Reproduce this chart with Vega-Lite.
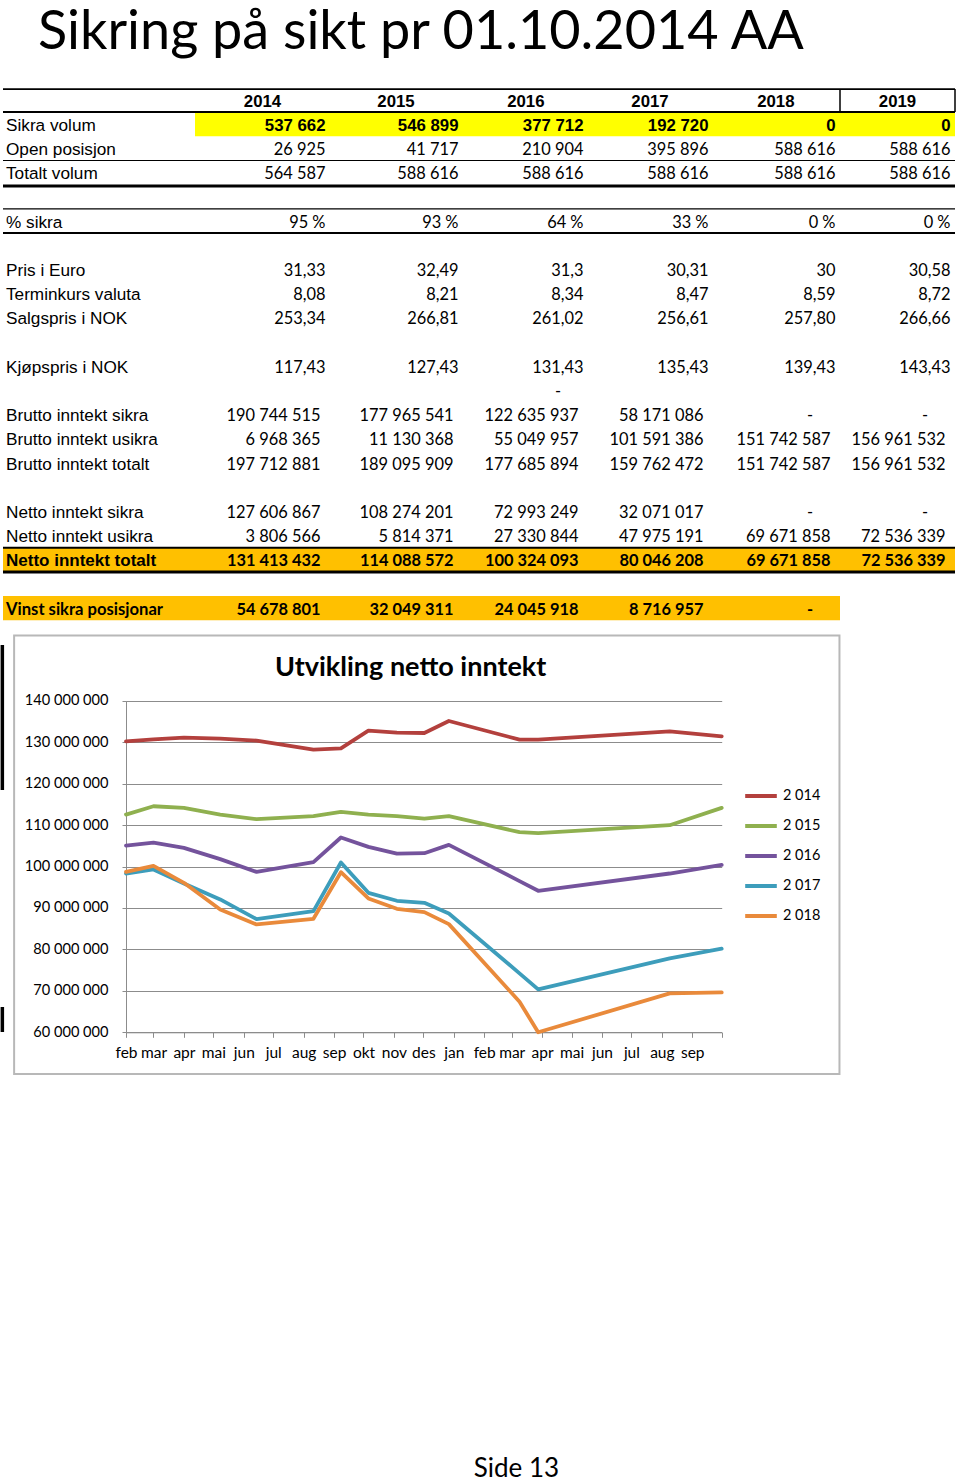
{
"$schema": "https://vega.github.io/schema/vega-lite/v6.json",
"width": 960, "height": 1483,
"autosize": {"type": "none"},
"padding": 0,
"background": "white",
"config": {"view": {"stroke": null}},
"datasets": {
"labels": [
{"row":1,"label":"Sikra volum"},{"row":2,"label":"Open posisjon"},{"row":3,"label":"Totalt volum"},
{"row":5,"label":"% sikra"},{"row":7,"label":"Pris i Euro"},{"row":8,"label":"Terminkurs valuta"},
{"row":9,"label":"Salgspris i NOK"},{"row":11,"label":"Kjøpspris i NOK"},{"row":13,"label":"Brutto inntekt sikra"},
{"row":14,"label":"Brutto inntekt usikra"},{"row":15,"label":"Brutto inntekt totalt"},{"row":17,"label":"Netto inntekt sikra"},
{"row":18,"label":"Netto inntekt usikra"},{"row":19,"label":"Netto inntekt totalt"},{"row":21,"label":"Vinst sikra posisjonar"}
],
"years": [{"year":2014},{"year":2015},{"year":2016},{"year":2017},{"year":2018},{"year":2019}],
"cells": [
{"row":1,"year":2014,"text":"537 662"},{"row":1,"year":2015,"text":"546 899"},{"row":1,"year":2016,"text":"377 712"},{"row":1,"year":2017,"text":"192 720"},{"row":1,"year":2018,"text":"0"},{"row":1,"year":2019,"text":"0"},
{"row":2,"year":2014,"text":"26 925"},{"row":2,"year":2015,"text":"41 717"},{"row":2,"year":2016,"text":"210 904"},{"row":2,"year":2017,"text":"395 896"},{"row":2,"year":2018,"text":"588 616"},{"row":2,"year":2019,"text":"588 616"},
{"row":3,"year":2014,"text":"564 587"},{"row":3,"year":2015,"text":"588 616"},{"row":3,"year":2016,"text":"588 616"},{"row":3,"year":2017,"text":"588 616"},{"row":3,"year":2018,"text":"588 616"},{"row":3,"year":2019,"text":"588 616"},
{"row":5,"year":2014,"text":"95 %"},{"row":5,"year":2015,"text":"93 %"},{"row":5,"year":2016,"text":"64 %"},{"row":5,"year":2017,"text":"33 %"},{"row":5,"year":2018,"text":"0 %"},{"row":5,"year":2019,"text":"0 %"},
{"row":7,"year":2014,"text":"31,33"},{"row":7,"year":2015,"text":"32,49"},{"row":7,"year":2016,"text":"31,3"},{"row":7,"year":2017,"text":"30,31"},{"row":7,"year":2018,"text":"30"},{"row":7,"year":2019,"text":"30,58"},
{"row":8,"year":2014,"text":"8,08"},{"row":8,"year":2015,"text":"8,21"},{"row":8,"year":2016,"text":"8,34"},{"row":8,"year":2017,"text":"8,47"},{"row":8,"year":2018,"text":"8,59"},{"row":8,"year":2019,"text":"8,72"},
{"row":9,"year":2014,"text":"253,34"},{"row":9,"year":2015,"text":"266,81"},{"row":9,"year":2016,"text":"261,02"},{"row":9,"year":2017,"text":"256,61"},{"row":9,"year":2018,"text":"257,80"},{"row":9,"year":2019,"text":"266,66"},
{"row":11,"year":2014,"text":"117,43"},{"row":11,"year":2015,"text":"127,43"},{"row":11,"year":2016,"text":"131,43"},{"row":11,"year":2017,"text":"135,43"},{"row":11,"year":2018,"text":"139,43"},{"row":11,"year":2019,"text":"143,43"},
{"row":12,"year":2016,"text":"-"},
{"row":13,"year":2014,"text":"190 744 515"},{"row":13,"year":2015,"text":"177 965 541"},{"row":13,"year":2016,"text":"122 635 937"},{"row":13,"year":2017,"text":"58 171 086"},{"row":13,"year":2018,"text":"-"},{"row":13,"year":2019,"text":"-"},
{"row":14,"year":2014,"text":"6 968 365"},{"row":14,"year":2015,"text":"11 130 368"},{"row":14,"year":2016,"text":"55 049 957"},{"row":14,"year":2017,"text":"101 591 386"},{"row":14,"year":2018,"text":"151 742 587"},{"row":14,"year":2019,"text":"156 961 532"},
{"row":15,"year":2014,"text":"197 712 881"},{"row":15,"year":2015,"text":"189 095 909"},{"row":15,"year":2016,"text":"177 685 894"},{"row":15,"year":2017,"text":"159 762 472"},{"row":15,"year":2018,"text":"151 742 587"},{"row":15,"year":2019,"text":"156 961 532"},
{"row":17,"year":2014,"text":"127 606 867"},{"row":17,"year":2015,"text":"108 274 201"},{"row":17,"year":2016,"text":"72 993 249"},{"row":17,"year":2017,"text":"32 071 017"},{"row":17,"year":2018,"text":"-"},{"row":17,"year":2019,"text":"-"},
{"row":18,"year":2014,"text":"3 806 566"},{"row":18,"year":2015,"text":"5 814 371"},{"row":18,"year":2016,"text":"27 330 844"},{"row":18,"year":2017,"text":"47 975 191"},{"row":18,"year":2018,"text":"69 671 858"},{"row":18,"year":2019,"text":"72 536 339"},
{"row":19,"year":2014,"text":"131 413 432"},{"row":19,"year":2015,"text":"114 088 572"},{"row":19,"year":2016,"text":"100 324 093"},{"row":19,"year":2017,"text":"80 046 208"},{"row":19,"year":2018,"text":"69 671 858"},{"row":19,"year":2019,"text":"72 536 339"},
{"row":21,"year":2014,"text":"54 678 801"},{"row":21,"year":2015,"text":"32 049 311"},{"row":21,"year":2016,"text":"24 045 918"},{"row":21,"year":2017,"text":"8 716 957"},{"row":21,"year":2018,"text":"-"}
],
"pts": [
{"series":"2 014","date":"2014-02-01","value":130200000},{"series":"2 014","date":"2014-03-01","value":130680000},{"series":"2 014","date":"2014-04-01","value":131080000},{"series":"2 014","date":"2014-05-08","value":130840000},{"series":"2 014","date":"2014-06-14","value":130360000},{"series":"2 014","date":"2014-08-11","value":128190000},{"series":"2 014","date":"2014-09-08","value":128510000},{"series":"2 014","date":"2014-10-06","value":132770000},{"series":"2 014","date":"2014-11-04","value":132290000},{"series":"2 014","date":"2014-12-02","value":132210000},{"series":"2 014","date":"2014-12-27","value":135100000},{"series":"2 014","date":"2015-03-09","value":130600000},{"series":"2 014","date":"2015-03-28","value":130600000},{"series":"2 014","date":"2015-08-09","value":132610000},{"series":"2 014","date":"2015-10-01","value":131410000},
{"series":"2 015","date":"2014-02-01","value":112530000},{"series":"2 015","date":"2014-03-01","value":114540000},{"series":"2 015","date":"2014-04-01","value":114140000},{"series":"2 015","date":"2014-05-08","value":112530000},{"series":"2 015","date":"2014-06-14","value":111410000},{"series":"2 015","date":"2014-08-11","value":112130000},{"series":"2 015","date":"2014-09-08","value":113170000},{"series":"2 015","date":"2014-10-06","value":112530000},{"series":"2 015","date":"2014-11-04","value":112130000},{"series":"2 015","date":"2014-12-02","value":111570000},{"series":"2 015","date":"2014-12-27","value":112130000},{"series":"2 015","date":"2015-03-09","value":108270000},{"series":"2 015","date":"2015-03-28","value":108030000},{"series":"2 015","date":"2015-08-09","value":109960000},{"series":"2 015","date":"2015-10-01","value":114140000},
{"series":"2 016","date":"2014-02-01","value":105060000},{"series":"2 016","date":"2014-03-01","value":105780000},{"series":"2 016","date":"2014-04-01","value":104500000},{"series":"2 016","date":"2014-05-08","value":101770000},{"series":"2 016","date":"2014-06-14","value":98710000},{"series":"2 016","date":"2014-08-11","value":101040000},{"series":"2 016","date":"2014-09-08","value":106990000},{"series":"2 016","date":"2014-10-06","value":104740000},{"series":"2 016","date":"2014-11-04","value":103130000},{"series":"2 016","date":"2014-12-02","value":103210000},{"series":"2 016","date":"2014-12-27","value":105220000},{"series":"2 016","date":"2015-03-09","value":96470000},{"series":"2 016","date":"2015-03-28","value":94140000},{"series":"2 016","date":"2015-08-09","value":98310000},{"series":"2 016","date":"2015-10-01","value":100400000},
{"series":"2 017","date":"2014-02-01","value":98310000},{"series":"2 017","date":"2014-03-01","value":99280000},{"series":"2 017","date":"2014-04-01","value":95900000},{"series":"2 017","date":"2014-05-08","value":92050000},{"series":"2 017","date":"2014-06-14","value":87310000},{"series":"2 017","date":"2014-08-11","value":89240000},{"series":"2 017","date":"2014-09-08","value":100960000},{"series":"2 017","date":"2014-10-06","value":93650000},{"series":"2 017","date":"2014-11-04","value":91730000},{"series":"2 017","date":"2014-12-02","value":91240000},{"series":"2 017","date":"2014-12-27","value":88670000},{"series":"2 017","date":"2015-03-09","value":74220000},{"series":"2 017","date":"2015-03-28","value":70360000},{"series":"2 017","date":"2015-08-09","value":77830000},{"series":"2 017","date":"2015-10-01","value":80160000},
{"series":"2 018","date":"2014-02-01","value":98710000},{"series":"2 018","date":"2014-03-01","value":100160000},{"series":"2 018","date":"2014-04-01","value":96060000},{"series":"2 018","date":"2014-05-08","value":89640000},{"series":"2 018","date":"2014-06-14","value":86020000},{"series":"2 018","date":"2014-08-11","value":87390000},{"series":"2 018","date":"2014-09-08","value":98630000},{"series":"2 018","date":"2014-10-06","value":92290000},{"series":"2 018","date":"2014-11-04","value":89800000},{"series":"2 018","date":"2014-12-02","value":89000000},{"series":"2 018","date":"2014-12-27","value":86100000},{"series":"2 018","date":"2015-03-09","value":67390000},{"series":"2 018","date":"2015-03-28","value":60000000},{"series":"2 018","date":"2015-08-09","value":69400000},{"series":"2 018","date":"2015-10-01","value":69640000}
]
},
"layer": [
{"layer": [
 {"data":{"values":[{}]},"mark":{"type":"rect","color":"#FFFF00"},"encoding":{
   "x":{"datum":2013,"scale":{"domain":[2012,2013,2014,2015,2016,2017,2018,2019],"range":[3,195,330,463,588,713,840,955],"nice":false,"zero":false},"axis":null},
   "x2":{"datum":2019},
   "y":{"datum":0.5,"scale":{"domain":[0,21],"range":[100,608.2],"nice":false,"zero":false},"axis":null},
   "y2":{"datum":1.5}}},
 {"data":{"values":[{}]},"mark":{"type":"rect","color":"#FFC000"},"encoding":{"x":{"datum":2012,"axis":null},"x2":{"datum":2019},"y":{"datum":18.5,"axis":null},"y2":{"datum":19.5}}},
 {"data":{"values":[{}]},"mark":{"type":"rect","color":"#FFC000"},"encoding":{"x":{"datum":2012,"axis":null},"x2":{"datum":2018},"y":{"datum":20.5,"axis":null},"y2":{"datum":21.5}}},
 {"data":{"values":[{}]},"mark":{"type":"rule","color":"black","strokeWidth":1.6},"encoding":{"x":{"datum":2012,"axis":null},"x2":{"datum":2019},"y":{"datum":-0.45,"axis":null}}},
 {"data":{"values":[{}]},"mark":{"type":"rule","color":"black","strokeWidth":2},"encoding":{"x":{"datum":2012,"axis":null},"x2":{"datum":2019},"y":{"datum":0.5,"axis":null}}},
 {"data":{"values":[{}]},"mark":{"type":"rule","color":"black","strokeWidth":1.2},"encoding":{"x":{"datum":2012,"axis":null},"x2":{"datum":2019},"y":{"datum":2.5,"axis":null}}},
 {"data":{"values":[{}]},"mark":{"type":"rule","color":"black","strokeWidth":3},"encoding":{"x":{"datum":2012,"axis":null},"x2":{"datum":2019},"y":{"datum":3.55,"axis":null}}},
 {"data":{"values":[{}]},"mark":{"type":"rule","color":"black","strokeWidth":1.2},"encoding":{"x":{"datum":2012,"axis":null},"x2":{"datum":2019},"y":{"datum":4.5,"axis":null}}},
 {"data":{"values":[{}]},"mark":{"type":"rule","color":"black","strokeWidth":2},"encoding":{"x":{"datum":2012,"axis":null},"x2":{"datum":2019},"y":{"datum":5.5,"axis":null}}},
 {"data":{"values":[{}]},"mark":{"type":"rule","color":"black","strokeWidth":2},"encoding":{"x":{"datum":2012,"axis":null},"x2":{"datum":2019},"y":{"datum":18.5,"axis":null}}},
 {"data":{"values":[{}]},"mark":{"type":"rule","color":"black","strokeWidth":3},"encoding":{"x":{"datum":2012,"axis":null},"x2":{"datum":2019},"y":{"datum":19.5,"axis":null}}},
 {"data":{"values":[{}]},"mark":{"type":"rule","color":"black","strokeWidth":1.5},"encoding":{"x":{"datum":2018,"axis":null},"y":{"datum":-0.45,"axis":null},"y2":{"datum":0.5}}},
 {"data":{"values":[{}]},"mark":{"type":"rule","color":"black","strokeWidth":1.5},"encoding":{"x":{"datum":2019,"axis":null},"y":{"datum":-0.45,"axis":null},"y2":{"datum":0.5}}},
 {"data":{"name":"labels"},"transform":[{"filter":"datum.row != 19 && datum.row != 21"}],"mark":{"type":"text","align":"left","baseline":"middle","dx":3,"dy":1.5,"font":"Liberation Sans","fontSize":17.2,"color":"black"},"encoding":{"x":{"datum":2012,"axis":null},"y":{"field":"row","type":"quantitative","axis":null},"text":{"field":"label","type":"nominal"}}},
 {"data":{"name":"labels"},"transform":[{"filter":"datum.row == 19"}],"mark":{"type":"text","align":"left","baseline":"middle","dx":3,"dy":1.5,"font":"Liberation Sans","fontWeight":"bold","fontSize":17,"color":"black"},"encoding":{"x":{"datum":2012,"axis":null},"y":{"field":"row","type":"quantitative","axis":null},"text":{"field":"label","type":"nominal"}}},
 {"data":{"name":"labels"},"transform":[{"filter":"datum.row == 21"}],"mark":{"type":"text","align":"left","baseline":"middle","dx":3,"dy":1.5,"font":"Lato","fontWeight":"bold","fontSize":16.6,"color":"black"},"encoding":{"x":{"datum":2012,"axis":null},"y":{"field":"row","type":"quantitative","axis":null},"text":{"field":"label","type":"nominal"}}},
 {"data":{"name":"cells"},"transform":[{"filter":"datum.row == 1"}],"mark":{"type":"text","align":"right","baseline":"middle","dx":-4.5,"dy":1.5,"font":"Liberation Sans","fontWeight":"bold","fontSize":16.8,"color":"black"},"encoding":{"x":{"field":"year","type":"quantitative","axis":null},"y":{"field":"row","type":"quantitative","axis":null},"text":{"field":"text","type":"nominal"}}},
 {"data":{"name":"cells"},"transform":[{"filter":"datum.row >= 2 && datum.row <= 11"}],"mark":{"type":"text","align":"right","baseline":"middle","dx":-4.5,"dy":1.5,"font":"Lato","fontSize":16.4,"color":"black"},"encoding":{"x":{"field":"year","type":"quantitative","axis":null},"y":{"field":"row","type":"quantitative","axis":null},"text":{"field":"text","type":"nominal"}}},
 {"data":{"name":"cells"},"transform":[{"filter":"datum.row >= 13 && datum.row <= 18 && datum.text != '-'"}],"mark":{"type":"text","align":"right","baseline":"middle","dx":-9.5,"dy":1.5,"font":"Lato","fontSize":16.4,"color":"black"},"encoding":{"x":{"field":"year","type":"quantitative","axis":null},"y":{"field":"row","type":"quantitative","axis":null},"text":{"field":"text","type":"nominal"}}},
 {"data":{"name":"cells"},"transform":[{"filter":"datum.row >= 19 && datum.text != '-'"}],"mark":{"type":"text","align":"right","baseline":"middle","dx":-9.5,"dy":1.5,"font":"Lato","fontWeight":"bold","fontSize":16.4,"color":"black"},"encoding":{"x":{"field":"year","type":"quantitative","axis":null},"y":{"field":"row","type":"quantitative","axis":null},"text":{"field":"text","type":"nominal"}}},
 {"data":{"name":"cells"},"transform":[{"filter":"datum.row >= 12 && datum.row <= 18 && datum.text == '-'"}],"mark":{"type":"text","align":"center","baseline":"middle","dx":-30,"dy":1.5,"font":"Lato","fontSize":16.4,"color":"black"},"encoding":{"x":{"field":"year","type":"quantitative","axis":null},"y":{"field":"row","type":"quantitative","axis":null},"text":{"field":"text","type":"nominal"}}},
 {"data":{"name":"cells"},"transform":[{"filter":"datum.row >= 19 && datum.text == '-'"}],"mark":{"type":"text","align":"center","baseline":"middle","dx":-30,"dy":1.5,"font":"Lato","fontWeight":"bold","fontSize":16.4,"color":"black"},"encoding":{"x":{"field":"year","type":"quantitative","axis":null},"y":{"field":"row","type":"quantitative","axis":null},"text":{"field":"text","type":"nominal"}}},
 {"data":{"values":[{}]},"mark":{"type":"text","align":"left","baseline":"alphabetic","dx":35,"font":"Lato","fontSize":54,"color":"black","text":"Sikring på sikt pr 01.10.2014 AA"},"encoding":{"x":{"datum":2012,"axis":null},"y":{"datum":-2.12,"axis":null}}},
 {"data":{"values":[{}]},"mark":{"type":"text","align":"center","baseline":"alphabetic","dx":53.5,"font":"Lato","fontSize":26,"color":"black","text":"Side 13"},"encoding":{"x":{"datum":2015,"axis":null},"y":{"datum":56.92,"axis":null}}}
]},
{"data":{"name":"years"},"mark":{"type":"text","align":"center","baseline":"middle","dy":1.5,"font":"Liberation Sans","fontWeight":"bold","fontSize":16.8,"color":"black"},"encoding":{
  "x":{"field":"year","type":"quantitative","scale":{"domain":[2014,2015,2016,2017,2018,2019],"range":[262.5,396,525.8,650,775.8,897.5],"nice":false,"zero":false},"axis":null},
  "y":{"datum":0,"scale":{"domain":[0,21],"range":[100,608.2],"nice":false,"zero":false},"axis":null},
  "text":{"field":"year","type":"nominal"}}},
{"layer": [
 {"data":{"values":[{}]},"mark":{"type":"rect","fill":"transparent","stroke":"#B8B8B8","strokeWidth":2},"encoding":{
   "x":{"datum":{"year":2013,"month":10,"date":10,"utc":true}},
   "x2":{"datum":{"year":2016,"month":1,"date":29,"utc":true}},
   "y":{"datum":155730000},"y2":{"datum":49940000}}},
 {"data":{"values":[{}]},"mark":{"type":"rule","color":"black","strokeWidth":3.5},"encoding":{"x":{"datum":{"year":2013,"month":9,"date":28,"utc":true}},"y":{"datum":153440000},"y2":{"datum":118460000}}},
 {"data":{"values":[{}]},"mark":{"type":"rule","color":"black","strokeWidth":3.5},"encoding":{"x":{"datum":{"year":2013,"month":9,"date":28,"utc":true}},"y":{"datum":66100000},"y2":{"datum":60070000}}},
 {"data":{"values":[{}]},"mark":{"type":"text","align":"center","baseline":"alphabetic","font":"Lato","fontWeight":"bold","fontSize":27,"color":"black","text":"Utvikling netto inntekt"},"encoding":{"x":{"datum":{"year":2014,"month":11,"date":18,"utc":true}},"y":{"datum":145960000}}},
 {"data":{"name":"pts"},"mark":{"type":"line","strokeWidth":3.8,"strokeJoin":"round","strokeCap":"round"},"encoding":{
   "x":{"field":"date","type":"temporal","title":null,
     "scale":{"type":"utc","domain":[{"year":2014,"month":2,"date":1,"utc":true},{"year":2015,"month":10,"date":1,"utc":true}],"range":[126,721.7],"nice":false},
     "axis":{"orient":"bottom","offset":-450.7,"tickCount":{"interval":"month","step":1},
       "labelExpr":"datum.value >= utc(2015, 9, 1) ? '' : ['jan','feb','mar','apr','mai','jun','jul','aug','sep','okt','nov','des'][utcmonth(datum.value)]",
       "labelOverlap":false,"labelFlush":false,"labelBound":false,"labelAngle":0,"labelAlign":"center","grid":false,
       "domainColor":"#8C8C8C","tickColor":"#8C8C8C","tickSize":5,"labelPadding":8,"labelFont":"Lato","labelFontSize":15.5,"labelColor":"black","title":null}},
   "y":{"field":"value","type":"quantitative","title":null,
     "scale":{"domain":[60000000,140000000],"range":[1032.3,700.7],"nice":false,"zero":false},
     "axis":{"orient":"left","offset":-126,"values":[60000000,70000000,80000000,90000000,100000000,110000000,120000000,130000000,140000000],
       "labelExpr":"replace(format(datum.value, ',d'), regexp(',', 'g'), ' ')",
       "grid":true,"gridColor":"#8C8C8C","gridWidth":1,"domainColor":"#8C8C8C","tickColor":"#8C8C8C","tickSize":4,"labelPadding":14,
       "labelFont":"Lato","labelFontSize":14.6,"labelColor":"black","title":null}},
   "color":{"field":"series","type":"nominal",
     "scale":{"domain":["2 014","2 015","2 016","2 017","2 018"],"range":["#B3403D","#8FB04F","#74539C","#3D9DBB","#E98A3B"]},
     "legend":{"orient":"none","legendX":743,"legendY":778,"title":null,"symbolType":"stroke","symbolSize":1000,"symbolStrokeWidth":4,
       "labelFont":"Lato","labelFontSize":14.5,"labelColor":"black","rowPadding":4,"labelOffset":4,"padding":0}}}}
]}
],
"resolve": {"scale": {"x": "independent", "y": "independent"}}
}
